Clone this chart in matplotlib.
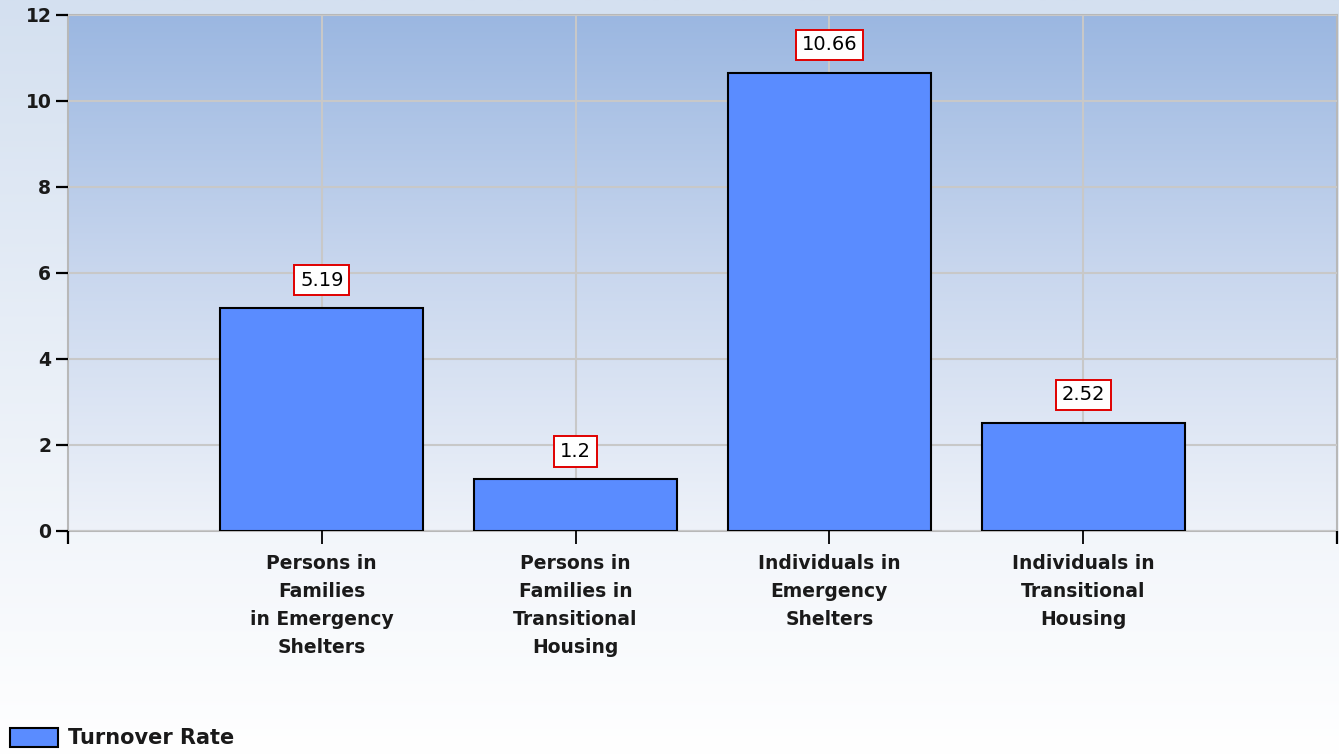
import numpy as np
import matplotlib
matplotlib.use("Agg")
import matplotlib.pyplot as plt
from matplotlib.colors import LinearSegmentedColormap
from matplotlib.patches import Patch

categories = ["Persons in\nFamilies\nin Emergency\nShelters",
              "Persons in\nFamilies in\nTransitional\nHousing",
              "Individuals in\nEmergency\nShelters",
              "Individuals in\nTransitional\nHousing"]
values = [5.19, 1.2, 10.66, 2.52]
value_labels = ["5.19", "1.2", "10.66", "2.52"]
yticks = [0, 2, 4, 6, 8, 10, 12]
series_name = "Turnover Rate"

W, H = 1339, 755
fig = plt.figure(figsize=(W / 100, H / 100), dpi=100)

# figure background gradient
bg = fig.add_axes([0, 0, 1, 1], zorder=-10)
bg_cmap = LinearSegmentedColormap.from_list("bg", ["#ffffff", "#d4e0f0"])
bg.imshow(np.linspace(0, 1, 256).reshape(-1, 1), aspect="auto", cmap=bg_cmap,
          origin="lower", extent=[0, 1, 0, 1])
bg.set_axis_off()

left, right = 68 / W, 1337 / W
top, bottom = 15 / H, 531 / H
ax = fig.add_axes([left, 1 - bottom, right - left, bottom - top])

x = np.arange(1, len(values) + 1)
ax.set_xlim(0, len(values) + 1)
ax.set_ylim(0, 12)

pa_cmap = LinearSegmentedColormap.from_list("pa", ["#eef2f9", "#c9d7ee", "#9bb7e1"])
ax.imshow(np.linspace(0, 1, 256).reshape(-1, 1), aspect="auto", cmap=pa_cmap,
          origin="lower", extent=[0, len(values) + 1, 0, 12], zorder=0)

ax.set_yticks(yticks)
ax.set_xticks(list(x))
ax.grid(True, color="#c8c8c8", linewidth=1.5, zorder=1)
ax.set_axisbelow(False)

bars = ax.bar(x, values, width=0.8, color="#5a8cff", edgecolor="black",
              linewidth=1.5, zorder=3)

for xi, v, lab in zip(x, values, value_labels):
    ax.annotate(lab, (xi, v), xytext=(0, 20), textcoords="offset points",
                ha="center", va="center", fontsize=14, color="black",
                bbox=dict(boxstyle="square,pad=0.3", fc="white", ec="#e00000", lw=1.4),
                zorder=5)

ax.set_xticklabels(categories, fontsize=13.5, fontweight="bold", color="#1a1a1a",
                   linespacing=1.6)
ax.set_yticklabels([str(t) for t in yticks], fontsize=13.5, fontweight="bold",
                   color="#1a1a1a")
ax.tick_params(axis="y", direction="out", length=9, width=1.6, color="black", pad=3)
ax.tick_params(axis="x", direction="out", length=9, width=1.3, color="black", pad=7.5)

for s in ax.spines.values():
    s.set_color("#b8b8b8")
    s.set_linewidth(1.5)

# extra x ticks at the plot edges
ax.set_xticks([0, len(values) + 1], minor=True)
ax.tick_params(axis="x", which="minor", direction="out", length=9, width=1.6, color="black")

leg = fig.legend(handles=[Patch(facecolor="#5a8cff", edgecolor="black", linewidth=1.5,
                                label=series_name)],
                 loc="lower left", bbox_to_anchor=(0.0, -0.005), frameon=False,
                 prop=dict(size=15, weight="bold"), handlelength=2.3, handleheight=1.0,
                 handletextpad=0.45, borderaxespad=0.3, borderpad=0.2)
for t in leg.get_texts():
    t.set_color("#1a1a1a")

fig.savefig("out.png", dpi=100)
